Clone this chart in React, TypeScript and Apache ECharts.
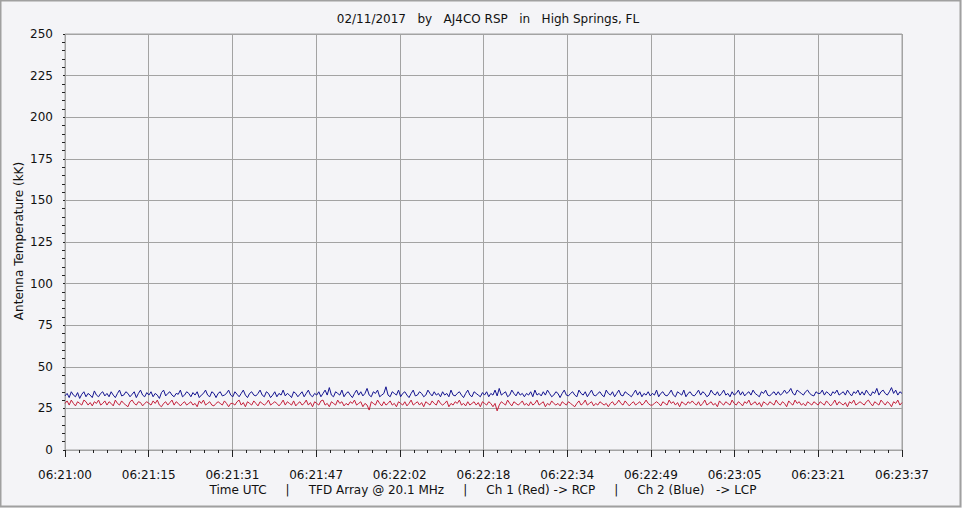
import React, { useEffect, useRef } from "react";
import * as echarts from "echarts";

const S3 = "\u00a0\u00a0\u00a0";
const S5 = "\u00a0\u00a0\u00a0\u00a0\u00a0";
const titleText = `02/11/2017${S3}by${S3}AJ4CO RSP${S3}in${S3}High Springs, FL`;
const xAxisTitle = `Time UTC${S5}|${S5}TFD Array @ 20.1 MHz${S5}|${S5}Ch 1 (Red) -> RCP${S5}|${S5}Ch 2 (Blue)${S3}-> LCP`;
const yAxisTitle = "Antenna Temperature (kK)";

const xTickLabels = [
  "06:21:00", "06:21:15", "06:21:31", "06:21:47", "06:22:02", "06:22:18",
  "06:22:34", "06:22:49", "06:23:05", "06:23:21", "06:23:37",
];

// Ch 2 (Blue) -> LCP
const ch2Blue = [
  32.5, 34, 31.5, 35, 33, 32, 34.5, 31, 33.5, 35, 32, 34, 33, 31.5, 35.5, 33, 32, 34, 35, 32.5,
  34, 32, 35, 33, 31.5, 34, 36, 32.5, 33, 35, 34, 32, 33.5, 35, 31.5, 34, 36, 33, 32, 34.5,
  33, 35, 32, 34, 33, 31, 34.5, 36, 32.5, 34, 35, 33, 32, 34, 33.5, 36, 32, 33, 35, 34,
  32, 34.5, 33, 35, 31.5, 33, 34, 36, 33, 32, 35, 34, 31.5, 34, 35, 32.5, 33, 34, 36, 33,
  32, 35, 33.5, 32, 34, 36, 33, 31.5, 34, 35, 33, 32.5, 34, 36, 33, 32, 35, 34, 31.5, 33,
  35, 32, 34, 33, 36, 32.5, 34, 33, 31.5, 35, 34, 32, 33.5, 35, 32, 34, 36, 33, 32, 34,
  33, 35, 32, 34, 36, 33, 37.5, 33, 32, 35, 34, 33, 36, 32, 34, 35, 33, 31.5, 34, 36,
  33, 35, 32.5, 34, 37, 33, 32, 35, 34, 36, 32, 33, 34, 38, 33, 32, 35, 34, 33, 36,
  32, 34, 35, 33, 31.5, 34, 36, 32.5, 33, 35, 34, 32, 33, 36, 34, 32.5, 35, 33, 34, 32,
  35, 33, 34, 32, 36, 33, 32.5, 34, 35, 33, 31.5, 34, 36, 33, 32, 35, 34, 33, 32, 34.5,
  33, 35, 32, 34, 33, 36, 32.5, 37, 33, 34, 35, 32, 33, 36, 34, 32.5, 35, 33, 34, 32,
  34, 33, 35, 32, 36, 33, 34, 32.5, 35, 33, 36, 34, 32, 33, 35, 34, 31.5, 34, 36, 33,
  32.5, 34, 35, 33, 32, 36, 34, 33, 35, 32, 34, 36, 33, 32.5, 34, 35, 33, 32, 36, 34,
  33, 35, 32, 34, 36, 33, 32.5, 35, 34, 33, 32, 34, 36, 33, 35, 32, 34, 33, 35, 32.5,
  34, 33, 36, 32, 34, 35, 33, 32.5, 34, 36, 33, 32, 35, 34, 33, 36, 32, 34, 35, 33,
  32.5, 34, 36, 33, 35, 34, 32, 33, 36, 34, 33, 35, 32.5, 34, 36, 33, 34, 32, 35, 33,
  34, 36, 33, 35, 32.5, 34, 35, 33, 36, 34, 33, 32, 35, 34, 36, 33, 32.5, 34, 35, 33,
  35, 33, 34, 36, 34, 35, 37, 34, 33, 36, 35, 34, 33, 35, 36, 34, 33, 32.5, 35, 34,
  34, 36, 33, 35, 34, 32.5, 35, 34, 36, 33, 34, 35, 33, 36, 34, 32.5, 35, 34, 36, 33,
  35, 33, 36, 34, 32.5, 35, 34, 37, 33, 35, 36, 34, 33, 35, 37.5, 34, 36, 33, 35, 34,
];

// Ch 1 (Red) -> RCP
const ch1Red = [
  28, 29.5, 27, 30, 28, 26.5, 29, 28, 27, 30, 29, 27, 28.5, 26.5, 29, 28, 30, 27, 28, 29.5,
  27, 29, 28, 26.5, 30, 28, 27, 29.5, 28, 27, 26, 29, 30, 28, 27, 29, 28.5, 26.5, 28, 29,
  28, 27, 29.5, 28, 30, 27, 26, 28, 29, 27, 28.5, 30, 27, 29, 28, 26.5, 28, 29, 27, 28,
  29, 27, 28, 26, 29.5, 28, 30, 27, 28, 29, 27, 26.5, 28, 29, 28, 27, 29.5, 28, 26, 28,
  28, 27, 29, 30, 27, 28.5, 26, 29, 28, 27, 29.5, 28, 26.5, 29, 28, 27, 28, 30, 27, 28,
  29, 28, 26.5, 28, 30, 27, 29, 28, 27, 29.5, 26.5, 28, 29, 27, 28, 30, 27, 28.5, 26, 29,
  28, 27, 29.5, 30, 27, 28, 26, 29, 28, 27, 30, 28, 29, 26.5, 28, 27, 29, 28, 30, 27,
  28, 29, 26, 28, 27, 24, 29, 28, 27, 30, 28, 26.5, 29, 27, 28, 29.5, 27, 28, 26, 29,
  28, 27, 29, 26.5, 28, 30, 27, 28, 29, 27, 28.5, 26, 29, 28, 27, 29.5, 28, 27, 30, 28,
  27, 28, 29.5, 26, 28, 27, 29, 28, 30, 27, 28, 26.5, 29, 27, 28, 29, 27, 28.5, 26, 29,
  28, 27, 29, 28, 26, 28, 23.5, 27, 29, 28, 27, 30, 28, 26.5, 29, 28, 27, 28, 29.5, 27,
  28, 26.5, 29, 27, 28, 30, 27, 28, 29, 26, 28, 27, 29.5, 28, 27, 28, 26.5, 29, 28, 27,
  29, 28, 27, 26, 28, 29.5, 27, 28, 30, 27, 28, 29, 26.5, 28, 27, 29, 28, 27, 28, 26,
  28, 29, 27, 28, 30, 28, 27, 29.5, 28, 26.5, 28, 29, 27, 28, 29, 27, 28, 30, 28, 27,
  27, 28, 29, 28, 26.5, 29, 28, 27, 30, 28, 29, 27, 28.5, 26, 29, 28, 27, 29, 28, 29.5,
  28, 27, 29, 26.5, 28, 30, 27, 28, 29, 27, 28, 26, 29.5, 28, 27, 29, 28, 27, 30, 28,
  27, 29, 28, 26.5, 29, 28, 30, 27, 28, 29, 27, 28.5, 26, 29, 28, 27, 29, 28, 27, 30,
  28, 27, 29, 28, 26, 29.5, 28, 27, 30, 28, 29, 27, 28, 26.5, 29, 28, 27, 29, 28, 27,
  29, 28, 27, 29.5, 28, 26.5, 28, 30, 27, 29, 28, 27, 28.5, 26, 29, 28, 30, 27, 28, 29,
  28, 27, 29, 30, 28, 26.5, 29, 28, 27, 30, 28.5, 27, 29, 28, 26, 29, 28, 30, 27, 28.5,
];

const FONT = "'DejaVu Sans', Verdana, sans-serif";
const GRID_COLOR = "#a3a3a3";
const TEXT_COLOR = "#111";

function toPoints(values: number[]) {
  const n = values.length;
  const span = xTickLabels.length - 1;
  return values.map((v, i) => [(i * span) / (n - 1), v]);
}

export default function App() {
  const ref = useRef<HTMLDivElement>(null);

  useEffect(() => {
    if (!ref.current) return;
    const chart = echarts.init(ref.current, undefined, { renderer: "svg" });
    chart.setOption({
      animation: false,
      backgroundColor: "#f4f4f7",
      textStyle: { fontFamily: FONT },
      title: {
        text: titleText,
        left: 483,
        top: 8,
        textAlign: "center",
        textStyle: { fontFamily: FONT, fontSize: 12, fontWeight: "normal", color: TEXT_COLOR },
      },
      grid: {
        left: 65,
        right: 60,
        top: 34,
        bottom: 58,
        show: true,
        borderColor: GRID_COLOR,
        borderWidth: 1,
        backgroundColor: "transparent",
      },
      xAxis: {
        type: "value",
        min: 0,
        max: xTickLabels.length - 1,
        interval: 1,
        offset: 5,
        axisLine: { show: false },
        axisTick: { show: true, length: 7, lineStyle: { color: "#222", width: 1 } },
        minorTick: { show: true, splitNumber: 6, length: 3, lineStyle: { color: "#222", width: 1 } },
        axisLabel: {
          margin: 14,
          fontFamily: FONT,
          fontSize: 12,
          color: TEXT_COLOR,
          formatter: (v: number) => xTickLabels[Math.round(v)] ?? "",
        },
        splitLine: { show: true, lineStyle: { color: GRID_COLOR, width: 1 } },
      },
      yAxis: {
        type: "value",
        min: 0,
        max: 250,
        interval: 25,
        offset: 5,
        axisLine: { show: false },
        axisTick: { show: true, length: 2, lineStyle: { color: "#222", width: 1 } },
        minorTick: { show: true, splitNumber: 5, length: 3, lineStyle: { color: "#222", width: 1 } },
        axisLabel: { margin: 7, fontFamily: FONT, fontSize: 12, color: TEXT_COLOR },
        splitLine: { show: true, lineStyle: { color: GRID_COLOR, width: 1 } },
      },
      graphic: [
        {
          type: "rect",
          shape: { x: 0.5, y: 0.5, width: 960, height: 506 },
          style: { fill: "none", stroke: "#a0a0a0", lineWidth: 2 },
          silent: true,
        },
        {
          type: "text",
          x: 483,
          y: 490,
          style: {
            text: xAxisTitle,
            fontFamily: FONT,
            fontSize: 12,
            fill: TEXT_COLOR,
            align: "center",
            verticalAlign: "middle",
          },
        },
        {
          type: "text",
          x: 19,
          y: 241,
          rotation: Math.PI / 2,
          style: {
            text: yAxisTitle,
            fontFamily: FONT,
            fontSize: 12,
            fill: TEXT_COLOR,
            align: "center",
            verticalAlign: "middle",
          },
        },
      ],
      series: [
        {
          name: "Ch 2 (Blue)",
          type: "line",
          data: toPoints(ch2Blue),
          showSymbol: false,
          lineStyle: { color: "#13138f", width: 1 },
          itemStyle: { color: "#13138f" },
        },
        {
          name: "Ch 1 (Red)",
          type: "line",
          data: toPoints(ch1Red),
          showSymbol: false,
          lineStyle: { color: "#c4203a", width: 1 },
          itemStyle: { color: "#c4203a" },
        },
      ],
    });
    return () => chart.dispose();
  }, []);

  return (
    <div
      ref={ref}
      style={{ position: "fixed", left: 0, top: 0, width: 962, height: 508 }}
    />
  );
}
